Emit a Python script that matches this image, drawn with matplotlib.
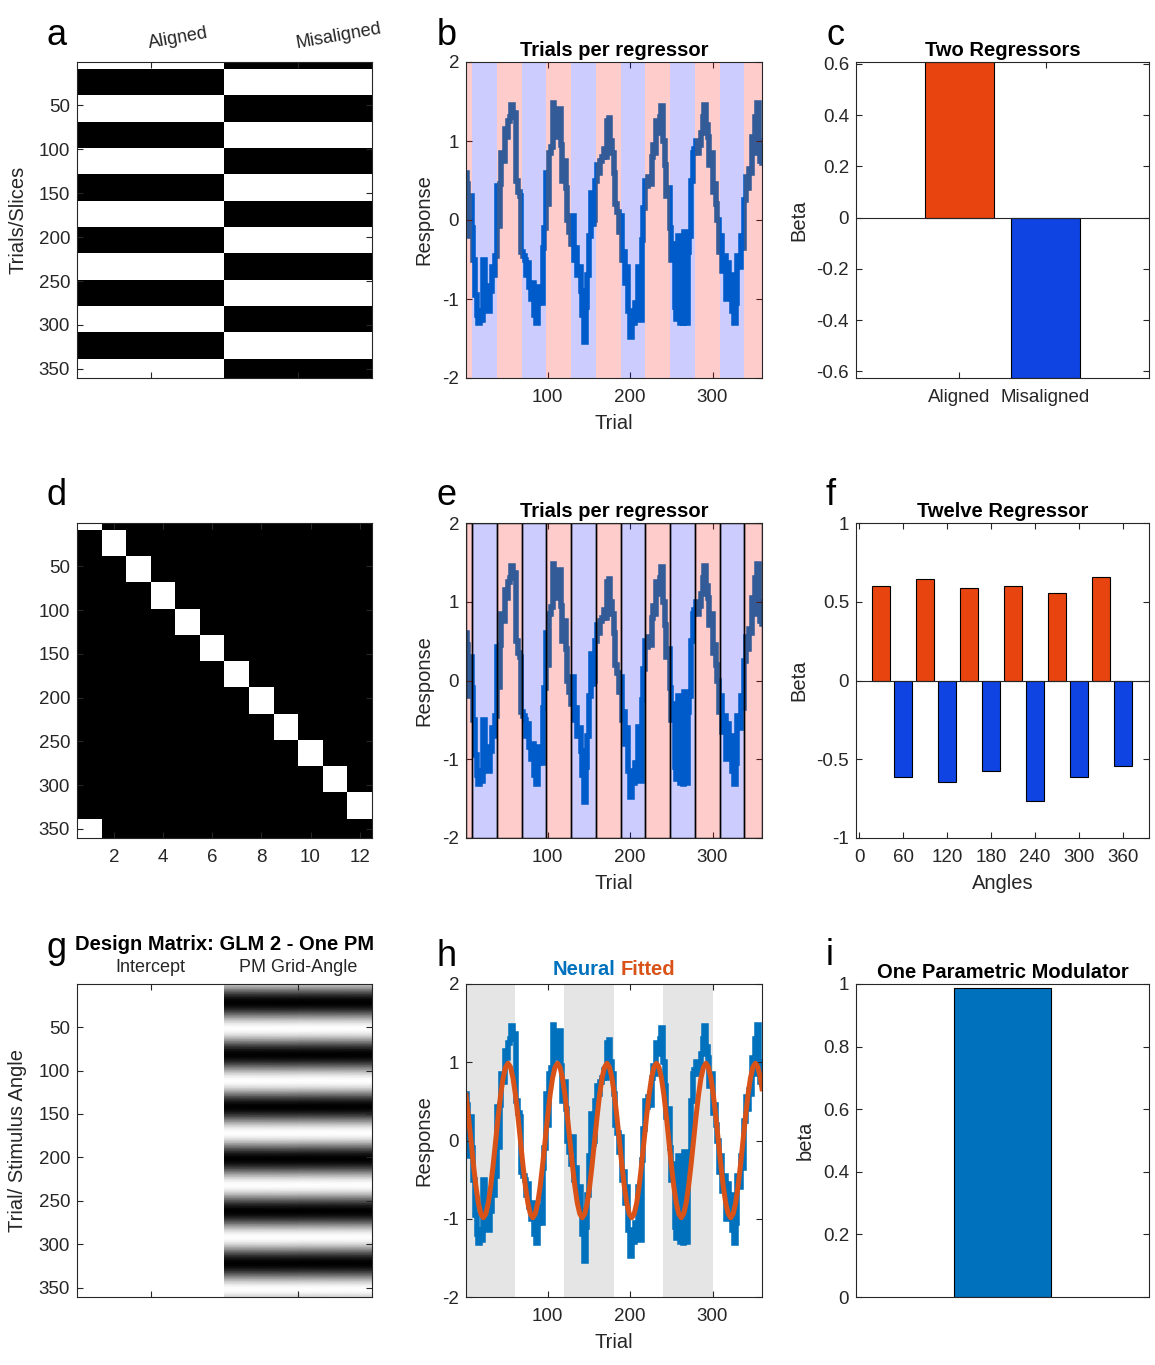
import numpy as np
import matplotlib
matplotlib.use("Agg")
import matplotlib.pyplot as plt
from matplotlib.ticker import FuncFormatter

plt.rcParams['font.family'] = ['Liberation Sans', 'DejaVu Sans']
plt.rcParams['axes.unicode_minus'] = False

# ---------------------------------------------------------------- data
# trial samples of the neural response
neural_trials = np.append(np.arange(1, 360, 2), 360)

# measured neural response
neural = [
    0.60, 0.45, -0.20, 0.30, -0.10, -0.50, -0.95, -1.20, -1.31, -1.15,
    -1.27, -0.50, -1.05, -0.84, -1.15, -0.90, -0.60, -0.70, -0.45, 0.43,
    -0.08, 0.45, 0.85, 0.75, 1.15, 1.05, 1.25, 1.30, 1.46, 1.30,
    1.36, 0.50, 0.35, 0.30, -0.40, -0.45, -0.50, -0.70, -0.55, -0.85,
    -1.00, -0.80, -1.20, -1.31, -1.05, -0.85, -1.05, -0.35, -0.10, 0.60,
    0.20, 0.85, 0.93, 1.48, 1.10, 1.30, 1.05, 1.40, 0.95, 0.50,
    0.75, 0.40, 0.00, -0.15, -0.30, 0.05, -0.50, -0.35, -0.70, -0.60,
    -0.90, -1.20, -1.54, -1.10, -0.70, -0.20, 0.34, -0.05, 0.00, 0.50,
    0.70, 0.60, 0.75, 0.80, 0.90, 0.80, 1.25, 1.29, 1.00, 0.85,
    0.60, 0.20, 0.10, -0.15, 0.05, -0.50, -0.40, -0.80, -0.60, -1.15,
    -1.48, -1.20, -1.30, -1.05, -1.20, -0.59, -1.27, -0.25, 0.15, 0.50,
    0.43, 0.55, 0.45, 0.80, 0.95, 0.85, 1.25, 1.10, 1.30, 1.44,
    1.00, 0.70, 0.30, 0.40, -0.10, -0.50, -0.30, -1.10, -1.25, -0.20,
    -1.30, -0.70, -1.31, -0.15, -1.30, -0.40, -0.20, 0.50, 0.85, 0.90,
    1.00, 0.85, 0.95, 1.10, 1.30, 1.46, 1.20, 1.05, 0.70, 0.85,
    0.35, 0.45, 0.20, 0.00, -0.40, -0.20, -0.65, -0.45, -1.00, -0.55,
    -0.90, -0.70, -1.15, -1.31, -1.05, -0.45, -0.60, -0.20, -0.35, 0.25,
    0.55, 0.40, 0.65, 0.60, 1.05, 0.85, 1.30, 1.48, 1.00, 0.75,
    0.72,
]

# trial samples of the grid-angle parametric modulator
pm_trials = np.append(np.arange(1, 359, 3), 360)

# grid-angle parametric modulator
pm_grid_angle = [
    0.59, 0.31, 0.00, -0.31, -0.59, -0.81, -0.95, -1.00, -0.95, -0.81,
    -0.59, -0.31, 0.00, 0.31, 0.59, 0.81, 0.95, 1.00, 0.95, 0.81,
    0.59, 0.31, 0.00, -0.31, -0.59, -0.81, -0.95, -1.00, -0.95, -0.81,
    -0.59, -0.31, 0.00, 0.31, 0.59, 0.81, 0.95, 1.00, 0.95, 0.81,
    0.59, 0.31, 0.00, -0.31, -0.59, -0.81, -0.95, -1.00, -0.95, -0.81,
    -0.59, -0.31, 0.00, 0.31, 0.59, 0.81, 0.95, 1.00, 0.95, 0.81,
    0.59, 0.31, 0.00, -0.31, -0.59, -0.81, -0.95, -1.00, -0.95, -0.81,
    -0.59, -0.31, 0.00, 0.31, 0.59, 0.81, 0.95, 1.00, 0.95, 0.81,
    0.59, 0.31, 0.00, -0.31, -0.59, -0.81, -0.95, -1.00, -0.95, -0.81,
    -0.59, -0.31, 0.00, 0.31, 0.59, 0.81, 0.95, 1.00, 0.95, 0.81,
    0.59, 0.31, 0.00, -0.31, -0.59, -0.81, -0.95, -1.00, -0.95, -0.81,
    -0.59, -0.31, 0.00, 0.31, 0.59, 0.81, 0.95, 1.00, 0.95, 0.81,
    0.67,
]

# trial boundaries of the 30-degree angle bins and the bin of each segment
bin_edges = [0.5, 8.5, 38.5, 68.5, 98.5, 128.5, 158.5, 188.5,
             218.5, 248.5, 278.5, 308.5, 338.5, 360.5]
segment_bin = [1, 2, 3, 4, 5, 6, 7, 8, 9, 10, 11, 12, 1]
bin_aligned = [True, False, True, False, True, False,
               True, False, True, False, True, False]

# two-regressor model
two_labels = ['Aligned', 'Misaligned']
two_betas = [0.607, -0.626]

# twelve-regressor model
twelve_angles = [30, 60, 90, 120, 150, 180, 210, 240, 270, 300, 330, 360]
twelve_betas = [0.597, -0.614, 0.643, -0.645, 0.590, -0.573,
                0.603, -0.764, 0.554, -0.614, 0.656, -0.544]

# one parametric modulator model
pm_beta = 0.987
pm_intercept = 0.0
design_labels = ['Intercept', 'PM Grid-Angle']
shade_spans = [(0, 60), (120, 180), (240, 300)]

# ---------------------------------------------------------------- style
INK = '#262626'
LINE_BLUE = '#0072BD'
FIT_ORANGE = '#D95319'
BAR_RED = '#E8440F'
BAR_BLUE = '#0F44E3'
TICK_FS = 13.5
LABEL_FS = 14.5
TITLE_FS = 14.5
LETTER_FS = 26
TRACE_LW = 4.0

W, H = 1155, 1365
fig = plt.figure(figsize=(W / 100, H / 100), dpi=100)


def add_axes(x0, y0, x1, y1):
    return fig.add_axes([x0 / W, 1 - y1 / H, (x1 - x0) / W, (y1 - y0) / H])


def style(ax, xpad=8, ypad=5):
    ax.tick_params(direction='in', top=True, right=True, length=4, width=0.8,
                   color=INK, labelcolor=INK, labelsize=TICK_FS)
    ax.tick_params(axis='x', pad=xpad)
    ax.tick_params(axis='y', pad=ypad)
    for s in ax.spines.values():
        s.set_color(INK)
        s.set_linewidth(0.8)


gfmt = FuncFormatter(lambda v, p: '%g' % round(v, 6))

# per-trial bin membership, built from the bin boundaries
rows = np.arange(1, 361)
seg_of_row = np.searchsorted(bin_edges, rows) - 1
bin_of_row = np.array(segment_bin)[seg_of_row]
one_hot = np.zeros((360, 12))
one_hot[np.arange(360), bin_of_row - 1] = 1
aligned_col = one_hot[:, np.array(bin_aligned)].sum(axis=1)
two_design = np.column_stack([aligned_col, 1 - aligned_col])

LEFT = (77, 372)
MID = (466, 762)
RIGHT = (856, 1149)
ROWS = [(62, 378), (523, 838), (984, 1297)]


def draw_neural(ax):
    ax.plot(neural_trials, neural, color=LINE_BLUE, lw=TRACE_LW, zorder=1,
            drawstyle='steps-mid', solid_joinstyle='miter')


# ---------------------------------------------------------------- a
ax = add_axes(LEFT[0], ROWS[0][0], LEFT[1], ROWS[0][1])
ax.imshow(two_design, cmap='gray', vmin=0, vmax=1, aspect='auto',
          interpolation='nearest', extent=(0.5, 2.5, 360.5, 0.5))
style(ax, ypad=5)
ax.set_xticks([1, 2])
ax.set_xticklabels([])
ax.set_yticks([50, 100, 150, 200, 250, 300, 350])
tr = ax.get_xaxis_transform()
for xi, lab in zip([1, 2], two_labels):
    ax.text(xi - 0.01, 1.045, lab, transform=tr, rotation=10, rotation_mode='anchor',
            ha='left', va='baseline', fontsize=13, color=INK)
ax.set_ylabel('Trials/Slices', fontsize=LABEL_FS, color=INK, labelpad=8)


# ---------------------------------------------------------------- b / e
def trial_panel(ax, edges):
    draw_neural(ax)
    for lo, hi, b in zip(bin_edges[:-1], bin_edges[1:], segment_bin):
        face = (1, 0, 0, 0.2) if bin_aligned[b - 1] else (0, 0, 1, 0.2)
        ax.axvspan(lo, hi, facecolor=face,
                   edgecolor='black' if edges else 'none',
                   lw=1.0 if edges else 0, zorder=2)
    ax.set_xlim(1, 360)
    ax.set_ylim(-2, 2)
    style(ax)
    ax.set_xticks([100, 200, 300])
    ax.set_yticks([-2, -1, 0, 1, 2])
    ax.set_xlabel('Trial', fontsize=LABEL_FS, color=INK, labelpad=6)
    ax.set_ylabel('Response', fontsize=LABEL_FS, color=INK, labelpad=6)
    ax.set_title('Trials per regressor', fontsize=TITLE_FS, fontweight='bold', pad=4)


axb = add_axes(MID[0], ROWS[0][0], MID[1], ROWS[0][1])
trial_panel(axb, edges=False)
axe = add_axes(MID[0], ROWS[1][0], MID[1], ROWS[1][1])
trial_panel(axe, edges=True)

# ---------------------------------------------------------------- c
ax = add_axes(RIGHT[0], ROWS[0][0], RIGHT[1], ROWS[0][1])
ax.bar([1, 2], two_betas, width=0.8, color=[BAR_RED, BAR_BLUE],
       edgecolor='black', linewidth=0.8, zorder=2)
ax.axhline(0, color=INK, lw=0.8, zorder=3)
ax.set_xlim(-0.2, 3.2)
ax.set_ylim(min(two_betas), max(two_betas))
style(ax)
ax.set_xticks([1, 2])
ax.set_xticklabels(two_labels)
ax.set_yticks([-0.6, -0.4, -0.2, 0, 0.2, 0.4, 0.6])
ax.yaxis.set_major_formatter(gfmt)
ax.set_ylabel('Beta', fontsize=LABEL_FS, color=INK, labelpad=6)
ax.set_title('Two Regressors', fontsize=TITLE_FS, fontweight='bold', pad=4)

# ---------------------------------------------------------------- d
ax = add_axes(LEFT[0], ROWS[1][0], LEFT[1], ROWS[1][1])
ax.imshow(one_hot, cmap='gray', vmin=0, vmax=1, aspect='auto',
          interpolation='nearest', extent=(0.5, 12.5, 360.5, 0.5))
style(ax)
ax.set_xticks([2, 4, 6, 8, 10, 12])
ax.set_yticks([50, 100, 150, 200, 250, 300, 350])

# ---------------------------------------------------------------- f
ax = add_axes(RIGHT[0], ROWS[1][0], RIGHT[1], ROWS[1][1])
ax.bar(twelve_angles, twelve_betas, width=24,
       color=[BAR_RED if a else BAR_BLUE for a in bin_aligned],
       edgecolor='black', linewidth=0.8, zorder=2)
ax.axhline(0, color=INK, lw=0.8, zorder=3)
ax.set_xlim(-4.5, 395.5)
ax.set_ylim(-1, 1)
style(ax)
ax.set_xticks([0, 60, 120, 180, 240, 300, 360])
ax.set_yticks([-1, -0.5, 0, 0.5, 1])
ax.yaxis.set_major_formatter(gfmt)
ax.set_xlabel('Angles', fontsize=LABEL_FS, color=INK, labelpad=6)
ax.set_ylabel('Beta', fontsize=LABEL_FS, color=INK, labelpad=6)
ax.set_title('Twelve Regressor', fontsize=TITLE_FS, fontweight='bold', pad=4)

# ---------------------------------------------------------------- g
ax = add_axes(LEFT[0], ROWS[2][0], LEFT[1], ROWS[2][1])
tt = np.asarray(pm_trials, dtype=float)
pm = np.asarray(pm_grid_angle)
ax.pcolormesh([0.5, 1.5], tt, np.ones((len(tt), 2)), cmap='gray',
              vmin=-1, vmax=1, shading='gouraud')
ax.pcolormesh([1.5, 2.5], tt, np.column_stack([pm, pm]), cmap='gray',
              vmin=-1, vmax=1, shading='gouraud')
ax.set_xlim(0.5, 2.5)
ax.set_ylim(360.5, 0.5)
style(ax)
ax.set_xticks([1, 2])
ax.set_xticklabels([])
ax.set_yticks([50, 100, 150, 200, 250, 300, 350])
tr = ax.get_xaxis_transform()
for xi, lab in zip([1, 2], design_labels):
    ax.text(xi, 1.025, lab, transform=tr, ha='center', va='bottom',
            fontsize=13, color=INK)
ax.text(0.5, 1.095, 'Design Matrix: GLM 2 - One PM', transform=ax.transAxes,
        ha='center', va='bottom', fontsize=TITLE_FS, fontweight='bold')
ax.set_ylabel('Trial/ Stimulus Angle', fontsize=LABEL_FS, color=INK, labelpad=8)

# ---------------------------------------------------------------- h
ax = add_axes(MID[0], ROWS[2][0], MID[1], ROWS[2][1])
for lo, hi in shade_spans:
    ax.axvspan(lo, hi, facecolor='#E5E5E5', edgecolor='none', zorder=0)
fitted = pm_intercept + pm_beta * pm
draw_neural(ax)
ax.plot(pm_trials, fitted, color=FIT_ORANGE, lw=3.6, zorder=2)
ax.set_xlim(1, 360)
ax.set_ylim(-2, 2)
style(ax)
ax.set_xticks([100, 200, 300])
ax.set_yticks([-2, -1, 0, 1, 2])
ax.set_xlabel('Trial', fontsize=LABEL_FS, color=INK, labelpad=6)
ax.set_ylabel('Response', fontsize=LABEL_FS, color=INK, labelpad=6)
ax.text(0.504, 1.015, 'Neural', transform=ax.transAxes, ha='right', va='bottom',
        fontsize=TITLE_FS, fontweight='bold', color=LINE_BLUE)
ax.text(0.521, 1.015, 'Fitted', transform=ax.transAxes, ha='left', va='bottom',
        fontsize=TITLE_FS, fontweight='bold', color=FIT_ORANGE)

# ---------------------------------------------------------------- i
ax = add_axes(RIGHT[0], ROWS[2][0], RIGHT[1], ROWS[2][1])
ax.bar([1], [pm_beta], width=0.667, color=LINE_BLUE, edgecolor='black',
       linewidth=0.8, zorder=2)
ax.set_xlim(0, 2)
ax.set_ylim(0, 1)
style(ax)
ax.set_xticks([])
ax.set_yticks([0, 0.2, 0.4, 0.6, 0.8, 1])
ax.yaxis.set_major_formatter(gfmt)
ax.set_ylabel('beta', fontsize=LABEL_FS, color=INK, labelpad=6)
ax.set_title('One Parametric Modulator', fontsize=TITLE_FS, fontweight='bold', pad=4)

# ---------------------------------------------------------------- panel letters
letters = [('a', 57, 45), ('b', 447, 45), ('c', 836, 45),
           ('d', 57, 505), ('e', 446, 505), ('f', 831, 505),
           ('g', 57, 958), ('h', 447, 966), ('i', 830, 965)]
for ch, x, y in letters:
    fig.text(x / W, 1 - y / H, ch, ha='center', va='baseline',
             fontsize=LETTER_FS, color='black')

fig.savefig('out.png', dpi=100, facecolor='white')
